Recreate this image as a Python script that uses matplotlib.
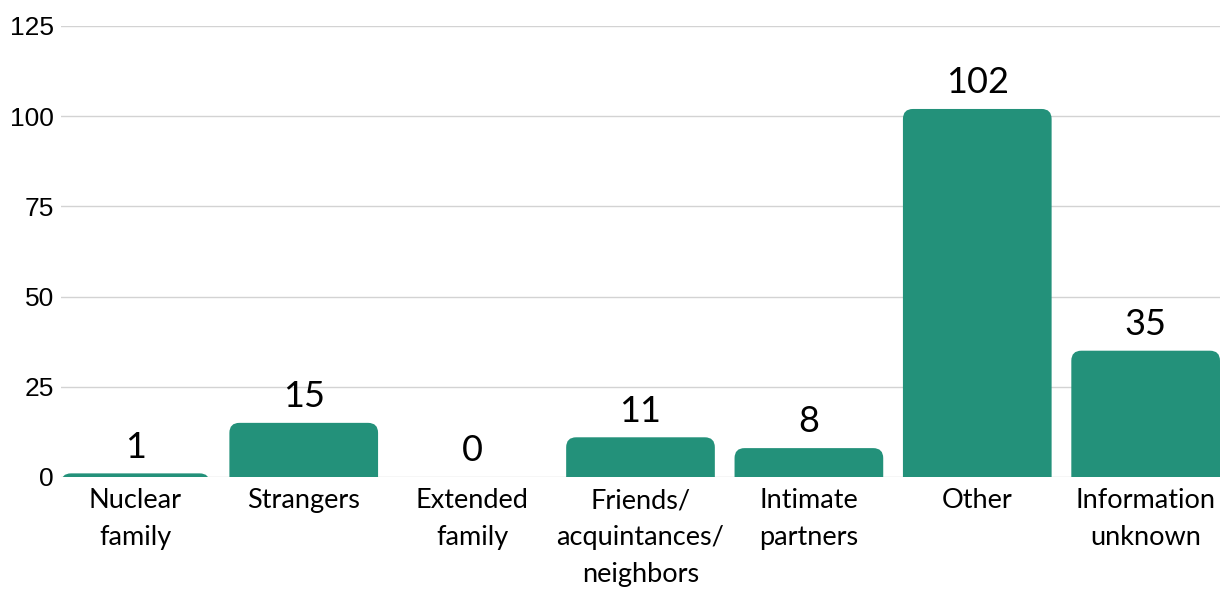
import matplotlib
matplotlib.use("Agg")
import matplotlib.pyplot as plt
from matplotlib.patches import FancyBboxPatch

# data
categories = ["Nuclear\nfamily", "Strangers", "Extended\nfamily",
              "Friends/\nacquintances/\nneighbors", "Intimate\npartners",
              "Other", "Information\nunknown"]
counts = [1, 15, 0, 11, 8, 102, 35]
yticks = [0, 25, 50, 75, 100, 125]

bar_color = "#23917A"
bar_w = 0.883

fig = plt.figure(figsize=(12.2, 5.96), dpi=100)
ax = fig.add_axes([0.05, 0.1997, 0.95, 0.7567])

ax.set_xlim(-bar_w / 2, len(counts) - 1 + bar_w / 2)
ax.set_ylim(0, 125)

# px per data unit, for rounding the top corners evenly
px_x = 0.95 * 1220 / (len(counts) - 1 + bar_w)
px_y = 0.7567 * 596 / 125
r = 10 / px_x
for i, v in enumerate(counts):
    if v <= 0:
        continue
    p = FancyBboxPatch((i - bar_w / 2, -20), bar_w, v + 20,
                       boxstyle="round,pad=0,rounding_size=%f" % r,
                       mutation_aspect=px_x / px_y,
                       facecolor=bar_color, edgecolor="none", zorder=3)
    ax.add_patch(p)

for i, v in enumerate(counts):
    ax.annotate(str(v), (i, v), xytext=(0, 7), textcoords="offset points",
                ha="center", va="bottom", fontsize=26, family="Lato",
                color="black")

ax.set_yticks(yticks)
ax.set_yticklabels([str(t) for t in yticks], family=["Liberation Sans", "DejaVu Sans"],
                   fontsize=19)
ax.set_xticks(range(len(categories)))
ax.set_xticklabels(categories, family="Lato", fontsize=19.5, linespacing=1.6)
ax.tick_params(axis="both", length=0)
ax.tick_params(axis="x", pad=8)
ax.tick_params(axis="y", pad=5)

ax.grid(axis="y", color="#d3d3d3", linewidth=1, zorder=0)
for s in ax.spines.values():
    s.set_visible(False)

fig.savefig("out.png", dpi=100)
